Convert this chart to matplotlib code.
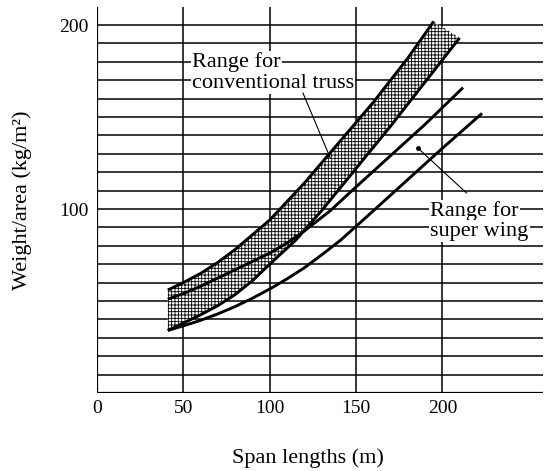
import matplotlib
matplotlib.use("Agg")
import matplotlib.pyplot as plt

# curves (span m, weight kg/m2)
conv_hi_x = [41, 50, 60, 70, 80, 90, 100, 120, 140, 160, 180, 195]
conv_hi_y = [56, 60, 65, 71, 78, 86, 94, 114, 136, 158, 182, 202]

conv_lo_x = [41, 50, 60, 70, 80, 90, 100, 115, 130, 150, 170, 190, 200, 210]
conv_lo_y = [34, 38, 42.5, 47.5, 53.5, 61, 70, 83, 99, 122, 145, 169, 181, 193]

wing_hi_x = [41, 50, 60, 70, 80, 90, 100, 110, 120, 135, 150, 170, 190, 212]
wing_hi_y = [51, 54, 58, 62.5, 67, 71.5, 76, 81.5, 88, 99, 112, 129, 146, 166]

wing_lo_x = [41, 50, 60, 70, 80, 90, 100, 110, 120, 130, 141, 160, 180, 200, 223]
wing_lo_y = [34, 36.5, 39.5, 43, 47, 51.5, 56.5, 62, 68, 75, 83, 99, 116, 133, 152]

x_ticks = [0, 50, 100, 150, 200]
y_ticks = [100, 200]
y_grid = list(range(0, 201, 10))

plt.rcParams['font.family'] = ['Liberation Serif', 'DejaVu Serif']
plt.rcParams['hatch.linewidth'] = 0.6

fig = plt.figure(figsize=(5.45, 4.71), dpi=100)
ax = fig.add_axes([97/545, 78/471, 446/545, 386/471])
ax.set_xlim(0, 258.3)
ax.set_ylim(0, 209.8)

for s in ax.spines.values():
    s.set_visible(False)

# grid lines
ax.hlines(y_grid, 0, 258.3, color='black', lw=1.1, zorder=1)
ax.vlines(x_ticks, 0, 209.8, color='black', lw=1.1, zorder=1)
ax.vlines([0], 0, 209.8, color='black', lw=1.6, zorder=1)
ax.hlines([0], 0, 258.3, color='black', lw=1.6, zorder=1)

# shaded band for conventional truss
band_x = conv_hi_x + conv_lo_x[::-1]
band_y = conv_hi_y + conv_lo_y[::-1]
ax.fill(band_x, band_y, facecolor='white', edgecolor='black', lw=0,
        hatch='+++++', zorder=2)

for xs, ys in [(conv_hi_x, conv_hi_y), (conv_lo_x, conv_lo_y),
               (wing_hi_x, wing_hi_y), (wing_lo_x, wing_lo_y)]:
    ax.plot(xs, ys, color='black', lw=2.1, zorder=3, solid_capstyle='butt',
            solid_joinstyle='round')

box = dict(facecolor='white', edgecolor='none', pad=1.0)
ax.text(55, 177, "Range for", fontsize=16, va='baseline', ha='left', bbox=box, zorder=4)
ax.text(55, 166, "conventional truss", fontsize=16, va='baseline', ha='left', bbox=box, zorder=4)
ax.plot([119.3, 135], [163, 128], color='black', lw=0.8, zorder=4)

ax.text(193, 96, "Range for", fontsize=16, va='baseline', ha='left', bbox=box, zorder=4)
ax.text(193, 85.5, "super wing", fontsize=16, va='baseline', ha='left', bbox=box, zorder=4)
ax.plot([214, 186], [108.7, 133], color='black', lw=0.8, zorder=4)
ax.plot([186], [133], 'o', color='black', ms=2.5, zorder=4)

ax.set_xticks(x_ticks)
ax.set_xticklabels([str(v) for v in x_ticks])
ax.set_yticks(y_ticks)
ax.set_yticklabels([str(v) for v in y_ticks])
ax.tick_params(length=0, labelsize=14)
ax.tick_params(axis='x', pad=5)
ax.tick_params(axis='y', pad=6)

fig.text(0.565, 0.028, "Span lengths (m)", fontsize=16, ha='center', va='center')
fig.text(0.040, 0.575, "Weight/area (kg/m²)", fontsize=16, ha='center', va='center',
         rotation=90)

fig.savefig("out.png", dpi=100)
